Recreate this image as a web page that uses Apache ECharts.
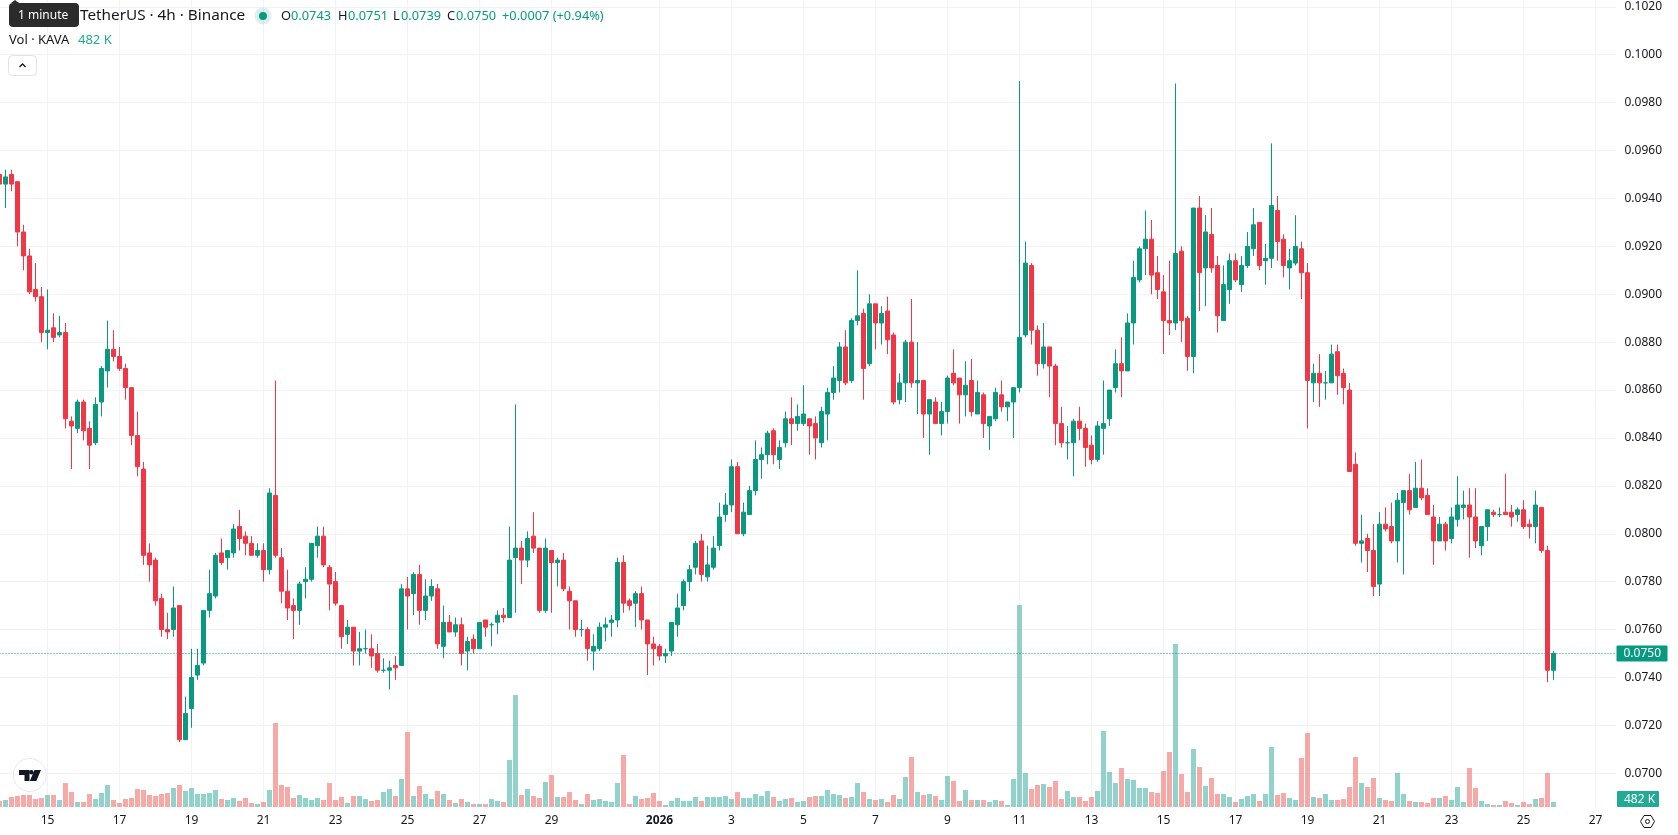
<!DOCTYPE html>
<html>
<head>
<meta charset="utf-8">
<title>KAVA / TetherUS 4h</title>
<style>
html,body{margin:0;padding:0;background:#fff;overflow:hidden}
#chart{width:1678px;height:835px}
</style>
<script src="https://cdn.jsdelivr.net/npm/echarts@6/dist/echarts.min.js"></script>
</head>
<body>
<div id="chart"></div>
<script>
// 4h candles, prices in units of 0.0001 USDT
const opens = [950,
946,950,947,926,916,902,899,884,886,883,
884,847,844,855,844,838,855,868,877,874,
869,861,841,827,792,789,773,760,760,770,
714,727,741,746,768,774,792,790,792,803,
799,796,791,793,785,816,790,776,770,768,
780,781,795,799,786,780,770,758,761,751,
752,752,750,743,743,745,745,777,775,783,
768,774,777,753,763,759,762,751,756,752,
764,762,763,766,765,790,794,789,799,794,
768,793,788,789,776,772,760,760,751,752,
761,763,764,788,772,771,775,764,754,753,
749,751,762,770,780,786,797,782,786,795,
808,812,828,800,808,818,831,833,843,831,
838,848,846,846,848,846,838,850,859,864,
878,864,889,892,871,896,888,893,883,856,
863,880,863,864,850,855,846,851,867,865,
858,864,850,858,845,848,858,853,855,861,
883,912,885,871,878,870,846,838,838,847,
844,837,831,844,848,861,871,868,888,906,
919,923,909,901,889,888,918,890,874,936,
911,925,912,889,902,914,904,912,919,930,
914,915,935,923,911,913,919,909,863,867,
863,863,876,867,860,829,796,798,793,779,
804,803,797,813,818,811,819,816,807,797,
804,798,806,811,812,807,795,803,809,808,
809,809,808,810,804,803,811,793,743];
const highs = [951,
952,952,947,929,919,913,903,902,892,891,
888,849,856,856,847,857,870,889,885,878,
871,861,851,830,796,790,775,767,778,770,
732,752,752,768,785,792,798,793,804,810,
801,799,796,796,819,864,794,785,773,780,
786,796,803,803,787,784,770,764,761,759,
760,758,754,748,747,749,779,782,784,787,
781,781,779,770,766,765,765,757,758,763,
764,763,768,769,803,854,797,801,809,794,
798,793,790,792,778,772,764,761,758,763,
765,766,790,791,773,776,778,764,757,754,
752,763,775,781,787,797,800,795,799,813,
817,831,830,813,820,839,836,843,844,839,
851,857,854,862,848,849,853,861,870,880,
885,890,910,894,900,896,895,899,884,867,
881,898,880,864,856,857,855,866,877,865,
872,873,864,859,849,861,864,855,861,989,
922,913,887,888,878,871,853,845,848,853,
846,841,847,864,860,877,882,892,914,920,
935,931,916,908,914,988,920,891,936,941,
933,936,916,912,917,917,916,926,936,930,
921,963,941,925,919,933,922,913,871,875,
868,879,879,869,863,834,808,800,804,809,
811,813,817,818,825,830,831,819,812,807,
805,811,824,818,819,819,803,810,810,811,
825,812,811,814,806,818,811,795,751];
const lows = [945,
936,943,920,910,900,897,880,877,880,882,
844,827,842,839,827,837,849,861,872,868,
856,837,824,787,780,770,757,756,757,713,
714,719,739,745,765,773,787,785,790,793,
791,791,790,780,783,790,771,764,756,762,
773,780,790,786,768,770,752,754,745,745,
750,744,742,742,735,739,745,760,766,762,
764,772,752,748,759,757,745,743,750,752,
757,753,758,763,765,767,779,786,792,767,
767,767,778,776,760,757,757,747,743,751,
755,757,761,767,768,761,760,741,745,747,
746,749,757,768,776,783,780,780,785,793,
805,809,800,799,808,816,823,829,829,827,
836,837,843,845,833,831,836,839,856,859,
862,863,887,856,870,877,879,875,854,854,
855,861,850,840,833,846,841,846,862,846,
849,849,850,840,835,847,851,847,840,859,
882,879,866,869,857,837,836,831,824,839,
828,829,830,833,845,859,857,868,879,905,
908,900,898,875,883,885,880,868,867,893,
895,909,884,889,896,905,901,911,916,910,
904,911,914,907,902,912,898,844,855,853,
856,863,858,854,826,795,788,784,774,774,
801,796,788,783,808,811,814,808,787,797,
793,796,803,806,790,794,791,797,807,807,
808,803,805,802,798,796,792,738,739];
const closes = [946,
949,946,926,916,901,899,884,885,882,884,
848,845,855,843,837,854,869,877,874,869,
861,841,828,791,787,772,760,759,769,714,
725,740,745,768,775,791,788,793,802,798,
796,791,793,785,817,791,776,769,768,779,
781,796,799,787,779,771,757,761,751,752,
752,749,743,743,744,744,777,774,783,768,
774,778,754,763,759,762,750,755,752,763,
761,762,766,765,789,794,789,798,794,768,
794,788,789,777,772,760,760,752,753,761,
762,764,788,771,770,775,764,754,752,749,
750,763,769,780,785,796,783,787,794,807,
812,828,800,809,818,831,833,842,833,836,
848,846,849,850,845,840,851,859,865,878,
863,889,891,869,896,888,892,881,855,863,
880,863,864,850,856,846,851,865,863,858,
862,851,859,846,849,859,853,855,861,882,
913,885,871,878,870,846,838,838,847,844,
836,831,845,846,860,871,868,888,907,919,
923,908,902,889,888,917,889,874,936,909,
926,911,891,904,914,906,912,920,929,912,
915,937,922,912,914,920,909,864,867,863,
863,875,866,861,826,796,797,793,778,804,
802,797,814,818,810,819,815,808,797,804,
797,807,812,812,807,797,803,810,808,808,
808,807,810,803,803,812,793,743,750];
// traded volume per candle, thousands of KAVA
const volumes = [578,
675,964,1060,1157,1157,771,868,1157,1157,675,
2314,1446,482,482,1253,771,1350,2121,675,386,
771,868,1735,1639,1157,1060,1253,1350,1832,2121,
1542,1832,1253,1253,1350,1639,771,675,868,578,
868,386,289,482,1639,8098,2121,1928,868,1157,
868,675,868,675,2314,675,964,386,1060,1060,
771,578,675,1446,1735,1060,2699,7230,1060,2024,
1253,771,1542,1253,675,386,771,482,289,289,
289,771,578,482,4531,10797,1157,1735,1060,868,
2410,3085,964,964,1446,675,289,1253,675,771,
578,482,2314,5013,289,1060,771,868,1350,578,
193,578,868,578,578,964,578,964,964,964,
1060,771,1446,868,868,1253,1060,1542,964,578,
771,868,482,578,964,1060,1060,1639,1253,1157,
868,964,2314,1446,771,675,771,482,1157,771,
2892,4820,1446,1157,1253,1060,675,2988,2506,578,
1639,675,675,675,482,675,578,193,2699,19473,
3278,1735,2121,2217,1928,2506,771,1542,964,964,
578,964,1542,7326,3374,2314,3760,2699,2603,1832,
1832,1446,1350,3470,5302,15713,3181,1446,5591,3856,
2024,2796,1253,1253,964,482,771,1060,1253,578,
1253,5784,1157,1350,868,675,4724,7134,964,868,
1253,675,675,771,1928,4820,2314,1928,2796,868,
675,578,3278,1253,578,482,482,386,868,868,
1060,675,1928,482,3760,1832,578,289,193,193,
578,386,193,482,289,771,868,3278,482];

const tickDates = ['2025-12-15','2025-12-17','2025-12-19','2025-12-21','2025-12-23','2025-12-25','2025-12-27','2025-12-29',
  '2026-01-01','2026-01-03','2026-01-05','2026-01-07','2026-01-09','2026-01-11','2026-01-13','2026-01-15','2026-01-17',
  '2026-01-19','2026-01-21','2026-01-23','2026-01-25','2026-01-27'];
const tickLabels = ['15','17','19','21','23','25','27','29','2026','3','5','7','9','11','13','15','17','19','21','23','25','27'];

const UP = '#089981', DOWN = '#F23645', VOL_UP = 'rgba(38,166,154,0.5)', VOL_DOWN = 'rgba(239,83,80,0.5)';
const GRID = '#f2f2f4', INK = '#131722', FONT = '"Noto Sans", sans-serif';
const PIP = 0.0001;
const SLOTS = 270;               // candle slots on the time axis, including the empty right margin
const CANDLE_MS = 4 * 3600 * 1000;
const firstCandle = Date.UTC(2025, 11, 13, 16);

const pad = n => String(n).padStart(2, '0');
const categories = Array.from({length: SLOTS}, (_, i) => {
  const d = new Date(firstCandle + i * CANDLE_MS);
  return `${d.getUTCFullYear()}-${pad(d.getUTCMonth() + 1)}-${pad(d.getUTCDate())} ${pad(d.getUTCHours())}`;
});
const tickMap = new Map(tickDates.map((d, i) => [d + ' 00', tickLabels[i]]));
const onTick = (_, value) => tickMap.has(value);

const price = v => +(v * PIP).toFixed(4);
const candleData = opens.map((o, i) => [price(o), price(closes[i]), price(lows[i]), price(highs[i])]);
const isUp = i => closes[i] > opens[i] || (closes[i] === opens[i] && i > 0 && closes[i - 1] <= closes[i]);
const volumeData = volumes.map((v, i) => ({value: v, itemStyle: {color: isUp(i) ? VOL_UP : VOL_DOWN}}));

const last = opens.length - 1;
const lastClose = price(closes[last]);
const lastChange = closes[last] - opens[last];
const fix4 = v => (v * PIP).toFixed(4);
const lastVolume = volumes[last] + ' K';
const ROW_FONT = `12.8px ${FONT}`;

const text = (x, y, str, fill, font) => ({
  type: 'text', z: 100, silent: true,
  style: {x, y, text: str, fill, font: font || `13px ${FONT}`, verticalAlign: 'middle'}
});

const ohlcRow = [
  text(281, 16.5, 'O', INK, ROW_FONT), text(291, 16.5, fix4(opens[last]), UP, ROW_FONT),
  text(338, 16.5, 'H', INK, ROW_FONT), text(348, 16.5, fix4(highs[last]), UP, ROW_FONT),
  text(393, 16.5, 'L', INK, ROW_FONT), text(401, 16.5, fix4(lows[last]), UP, ROW_FONT),
  text(447, 16.5, 'C', INK, ROW_FONT), text(456, 16.5, fix4(closes[last]), UP, ROW_FONT),
  text(502, 16.5, `+${fix4(lastChange)} (+${(lastChange / opens[last] * 100).toFixed(2)}%)`, UP, ROW_FONT)
];

const graphics = [
  // symbol title
  text(80, 16, 'TetherUS · 4h · Binance', INK, `15.3px ${FONT}`),
  // hover hint over the symbol name
  {type: 'polygon', z: 101, silent: true, shape: {points: [[11, 3], [15, 0], [19, 3]]}, style: {fill: '#2b2b2b'}},
  {type: 'rect', z: 101, silent: true, shape: {x: 9, y: 3, width: 70, height: 24, r: 4}, style: {fill: '#2b2b2b'}},
  Object.assign(text(18, 15.5, '1 minute', '#ffffff', `12px ${FONT}`), {z: 102}),
  // market status dot
  {type: 'circle', z: 100, silent: true, shape: {cx: 263, cy: 16, r: 8.5}, style: {fill: 'rgba(8,153,129,0.14)'}},
  {type: 'circle', z: 101, silent: true, shape: {cx: 263, cy: 16, r: 4}, style: {fill: UP}},
  ...ohlcRow,
  // volume legend
  text(9, 40.5, 'Vol · KAVA', INK), text(78, 40.5, lastVolume, '#22ab94'),
  // collapse button
  {type: 'rect', z: 100, silent: true, shape: {x: 8.5, y: 55.5, width: 28, height: 20, r: 4}, style: {fill: '#fff', stroke: '#e0e3eb', lineWidth: 1}},
  {type: 'polyline', z: 101, silent: true, shape: {points: [[19.5, 67], [22.5, 64], [25.5, 67]]}, style: {fill: null, stroke: INK, lineWidth: 1.3}},
  // brand badge
  {type: 'circle', z: 100, silent: true, shape: {cx: 29.7, cy: 775, r: 16.5}, style: {fill: '#fff', stroke: '#e9e9ea', lineWidth: 1}},
  {type: 'polygon', z: 101, silent: true, shape: {points: [[19, 770], [29.5, 770], [29.5, 781], [24.5, 781], [24.5, 775], [19, 775]]}, style: {fill: '#131722'}},
  {type: 'circle', z: 101, silent: true, shape: {cx: 31.3, cy: 772.3, r: 2.3}, style: {fill: '#131722'}},
  {type: 'polygon', z: 101, silent: true, shape: {points: [[34.5, 770], [41, 770], [36.3, 781], [29.8, 781]]}, style: {fill: '#131722'}},
  // last volume tag
  {type: 'rect', z: 100, silent: true, shape: {x: 1617, y: 791, width: 42, height: 16, r: 1}, style: {fill: '#22ab94'}},
  text(1624, 799.5, lastVolume, '#ffffff', `12px ${FONT}`),
  // scale settings button
  {type: 'polygon', z: 100, silent: true, shape: {points: [[1640.5, 821.5], [1644, 815.5], [1651, 815.5], [1654.5, 821.5], [1651, 827.5], [1644, 827.5]]}, style: {fill: null, stroke: INK, lineWidth: 1}},
  {type: 'circle', z: 100, silent: true, shape: {cx: 1647.5, cy: 821.5, r: 2}, style: {fill: null, stroke: INK, lineWidth: 1}}
];

const option = {
  animation: false,
  backgroundColor: '#ffffff',
  textStyle: {fontFamily: FONT},
  grid: [
    {left: -3.5, width: 1620, top: 6.85, height: 766.4, outerBoundsMode: 'none'},
    {left: -3.5, width: 1620, top: 0, height: 807, outerBoundsMode: 'none'}
  ],
  xAxis: [
    {type: 'category', gridIndex: 0, data: categories, show: false},
    {
      type: 'category', gridIndex: 1, data: categories,
      axisLine: {show: false}, axisTick: {show: false},
      splitLine: {show: true, alignWithLabel: true, interval: onTick, lineStyle: {color: GRID, width: 1}},
      axisLabel: {
        interval: onTick, margin: 8, color: INK, fontSize: 12, fontFamily: FONT, hideOverlap: false,
        formatter: v => {
          const t = tickMap.get(v);
          return t === '2026' ? `{year|${t}}` : t;
        },
        rich: {year: {fontWeight: 'bold', fontSize: 12, color: INK, fontFamily: FONT}}
      }
    }
  ],
  yAxis: [
    {
      type: 'value', gridIndex: 0, position: 'right', min: 0.07, max: 0.102, interval: 0.002, scale: true,
      axisLine: {show: false}, axisTick: {show: false},
      splitLine: {show: true, lineStyle: {color: GRID, width: 1}},
      axisLabel: {margin: 8, color: INK, fontSize: 12, fontFamily: FONT, formatter: v => v.toFixed(4)}
    },
    {type: 'value', gridIndex: 1, min: 0, max: 77795, show: false, splitLine: {show: false}}
  ],
  series: [
    {
      type: 'bar', name: 'Volume', xAxisIndex: 1, yAxisIndex: 1, data: volumeData,
      barWidth: 5, silent: true, z: 1
    },
    {
      type: 'candlestick', name: 'KAVAUSDT', xAxisIndex: 0, yAxisIndex: 0, data: candleData,
      barWidth: 4, silent: true, z: 3,
      itemStyle: {color: UP, color0: DOWN, borderColor: UP, borderColor0: DOWN, borderWidth: 1},
      markLine: {
        silent: true, symbol: 'none', animation: false, precision: 4, z: 4,
        lineStyle: {type: [1, 2], color: UP, width: 1},
        data: [{yAxis: lastClose}],
        label: {
          show: true, position: 'end', distance: 0, formatter: () => lastClose.toFixed(4),
          color: '#fff', backgroundColor: UP, fontSize: 12, fontFamily: FONT,
          padding: [2, 6, 2, 7], borderRadius: 1, width: 38, align: 'left'
        }
      }
    }
  ],
  graphic: {elements: graphics}
};

const chart = echarts.init(document.getElementById('chart'), null, {renderer: 'canvas'});
chart.setOption(option);
</script>
</body>
</html>
